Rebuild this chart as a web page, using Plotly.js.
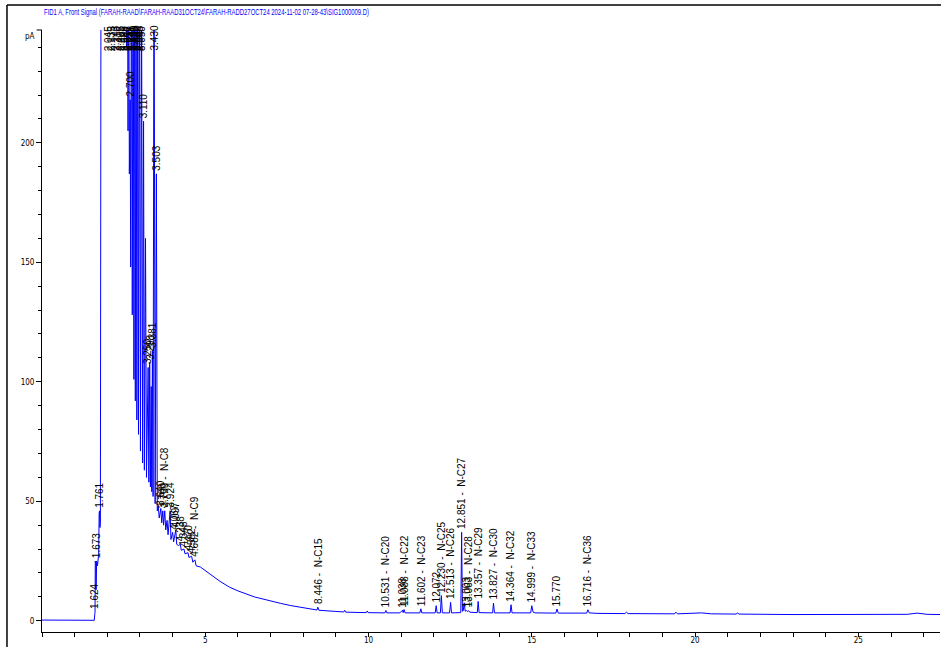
<!DOCTYPE html>
<html>
<head>
<meta charset="utf-8">
<script src="https://cdn.plot.ly/plotly-3.0.1.min.js"></script>
<style>
  html, body { margin: 0; padding: 0; background: #ffffff; }
  #chart { width: 941px; height: 647px; }
</style>
</head>
<body>
<div id="chart"></div>
<script>
// FID1 A front-signal chromatogram: retention time (min) vs detector signal (pA)
const timeMin = [
  0.00, 0.50, 1.00, 1.50, 1.600, 1.615, 1.624, 1.632, 1.648, 1.656, 1.664, 1.673, 1.700, 1.735, 1.750, 1.761, 1.775, 1.788,
  1.810, 1.900, 2.045, 2.135, 2.243, 2.318, 2.405, 2.496, 2.568, 2.595, 2.616, 2.635, 2.652, 2.675, 2.700, 2.716,
  2.741, 2.765, 2.790, 2.815, 2.835, 2.858, 2.880, 2.905, 2.932, 2.955, 2.985, 3.015, 3.050, 3.080, 3.110, 3.135,
  3.170, 3.200, 3.250, 3.272, 3.298, 3.320, 3.345, 3.362, 3.381, 3.402, 3.430, 3.465, 3.503, 3.530, 3.560, 3.590,
  3.640, 3.665, 3.700, 3.722, 3.759, 3.790, 3.830, 3.860, 3.924, 3.948, 4.000, 4.030, 4.067, 4.097, 4.125, 4.180,
  4.238, 4.265, 4.348, 4.380, 4.470, 4.500, 4.582, 4.620, 4.682, 4.720, 4.850, 5.000, 5.250, 5.450, 5.750, 6.000,
  6.500, 7.000, 7.300, 7.600, 8.000, 8.420, 8.446, 8.480, 9.000, 9.240, 9.270, 9.300, 9.930, 9.960, 9.990, 10.500,
  10.531, 10.560, 10.960, 11.038, 11.060, 11.088, 11.120, 11.570, 11.602, 11.630, 12.040, 12.072, 12.100, 12.200,
  12.230, 12.260, 12.480, 12.513, 12.540, 12.825, 12.851, 12.875, 12.900, 12.930, 12.960, 13.003, 13.030, 13.063,
  13.100, 13.330, 13.357, 13.385, 13.800, 13.827, 13.855, 14.335, 14.364, 14.395, 14.965, 14.999, 15.040, 15.100,
  15.735, 15.770, 15.810, 16.680, 16.716, 16.760, 17.000, 17.850, 17.900, 17.950, 19.370, 19.410, 19.460, 20.000,
  20.200, 20.500, 21.250, 21.300, 21.350, 23.000, 25.000, 26.500, 26.800, 27.100, 27.500
];
const signalPA = [
  0.3, 0.3, 0.2, 0.2, 0.2, 2.5, 3.5, 25, 24, 13, 24, 25, 23, 28, 45, 46, 39, 41,
  320, 480, 520, 500, 470, 450, 430, 400, 330, 240, 320, 205, 310, 187, 218, 148,
  300, 128, 320, 101, 300, 92, 300, 84, 300, 78, 300, 71, 260, 66, 209, 63,
  160, 60, 106, 58, 108, 56, 98, 54, 113, 52, 300, 49, 187, 46, 48, 43,
  47, 41, 46, 40, 46, 38, 42, 36, 46, 34, 37, 33, 37, 38, 32, 31.5,
  32, 29.5, 30, 28, 28.5, 26.5, 27, 24.5, 25.5, 23, 22.5, 21, 18.5, 16.5, 14, 12.5,
  10.0, 8.2, 7.3, 6.4, 5.4, 4.5, 5.7, 4.4, 3.9, 3.7, 4.4, 3.6, 3.4, 4.1, 3.4, 3.3,
  4.3, 3.3, 3.3, 4.4, 3.4, 4.7, 3.3, 3.3, 5.0, 3.3, 3.3, 6.3, 3.3, 3.3,
  10.5, 3.3, 3.3, 7.7, 3.3, 3.4, 37, 4.0, 4.2, 7.5, 4.0, 4.3, 3.8, 4.2,
  3.6, 3.4, 8.1, 3.4, 3.3, 7.4, 3.3, 3.3, 6.7, 3.3, 3.3, 6.3, 3.6, 3.3,
  3.2, 4.9, 3.2, 3.2, 4.6, 3.3, 3.1, 3.0, 3.6, 3.0, 2.9, 3.6, 2.9, 3.0,
  3.3, 2.9, 2.8, 3.2, 2.8, 2.6, 2.6, 2.7, 3.2, 2.7, 2.6
];

// integrated peaks: retention time and assigned n-alkane ('' = unassigned)
const peakTimes = [
  1.624, 1.673, 1.761, 2.045, 2.135, 2.243, 2.318, 2.405, 2.496, 2.568, 2.616, 2.652, 2.700,
  2.741, 2.790, 2.835, 2.880, 2.932, 2.985, 3.050, 3.110, 3.250, 3.298, 3.381, 3.430, 3.503,
  3.640, 3.700, 3.759, 3.924, 4.067, 4.097, 4.238, 4.348, 4.470, 4.582, 4.682,
  8.446, 10.531, 11.038, 11.088, 11.602, 12.072, 12.230, 12.513, 12.851, 13.003, 13.063,
  13.357, 13.827, 14.364, 14.999, 15.770, 16.716
];
const peakNames = [
  '', '', '', '', '', '', '', '', '', '', '', '', '',
  '', '', '', '', '', '', '', '', '', '', '', '', '',
  '', '', 'N-C8', '', '', '', '', '', '', '', 'N-C9',
  'N-C15', 'N-C20', '', 'N-C22', 'N-C23', '', 'N-C25', 'N-C26', 'N-C27', '', 'N-C28',
  'N-C29', 'N-C30', 'N-C32', 'N-C33', '', 'N-C36'
];

const xTickVals = [5, 10, 15, 20, 25];
const yTickVals = [0, 50, 100, 150, 200];
const signalUnit = 'pA';
const titleText = 'FID1 A, Front Signal (FARAH-RAAD\\FARAH-RAAD31OCT24\\FARAH-RADD27OCT24 2024-11-02 07-28-43\\SIG1000009.D)';

const xRange = [0, 27.5];
const yRange = [-4.7, 247.2];

const labelFont = { family: 'Liberation Sans, Arial, sans-serif', size: 10, color: '#000000' };
const tickFont = { family: '"Liberation Sans Narrow", "Arial Narrow", "DejaVu Sans Condensed", sans-serif', size: 8, color: '#000000' };
const titleWidthPx = 325;   // report header is printed in a compressed face

// Peak labels sit just above the apex; off-scale apexes get their label pinned at the top edge
const peakLabels = peakTimes.map((t, i) => {
  const v = signalPA[timeMin.indexOf(t)];
  const offScale = v > yRange[1];
  return {
    x: t, y: offScale ? yRange[1] : v, xref: 'x', yref: 'y',
    text: t.toFixed(3) + (peakNames[i] ? ' -  ' + peakNames[i] : ''),
    textangle: -90, showarrow: false, xanchor: 'center',
    yanchor: offScale ? 'top' : 'bottom', yshift: offScale ? 5 : 2,
    borderpad: 0, font: labelFont
  };
});

const titleIndex = peakLabels.length;
const annotations = peakLabels.concat([
  { xref: 'paper', yref: 'paper', x: 0.001, y: 1, xanchor: 'left', yanchor: 'middle', yshift: 18,
    text: titleText, showarrow: false, borderpad: 0,
    font: { family: 'Liberation Sans, Arial, sans-serif', size: 9, color: '#0000ff' } },
  { xref: 'paper', yref: 'paper', x: -0.013, y: 1, xanchor: 'center', yanchor: 'middle', yshift: -6,
    text: signalUnit, showarrow: false, borderpad: 0, font: tickFont }
]);

const trace = {
  x: timeMin, y: signalPA, type: 'scatter', mode: 'lines',
  line: { color: '#0000ff', width: 1 }, hoverinfo: 'skip'
};

const layout = {
  width: 941, height: 647,
  margin: { l: 42, r: 1, t: 30, b: 15, pad: 0 },
  paper_bgcolor: '#ffffff', plot_bgcolor: '#ffffff',
  showlegend: false,
  xaxis: {
    range: xRange, showgrid: false, zeroline: false,
    showline: true, linecolor: '#000000', linewidth: 1,
    tickmode: 'array', tickvals: xTickVals, ticktext: xTickVals.map(String),
    ticks: 'outside', ticklen: 4, tickwidth: 1, tickcolor: '#000000',
    ticklabelstandoff: -4,
    tickfont: tickFont,
    minor: { dtick: 1, tick0: 0, ticks: 'outside', ticklen: 4, tickwidth: 1, tickcolor: '#000000', showgrid: false }
  },
  yaxis: {
    range: yRange, showgrid: false, zeroline: false,
    showline: true, linecolor: '#000000', linewidth: 1,
    tickmode: 'array', tickvals: yTickVals, ticktext: yTickVals.map(String),
    ticks: 'outside', ticklen: 5, tickwidth: 1, tickcolor: '#000000',
    tickfont: tickFont,
    minor: { dtick: 10, tick0: 0, ticks: 'outside', ticklen: 3, tickwidth: 1, tickcolor: '#000000', showgrid: false }
  },
  annotations: annotations,
  shapes: [
    // report frame (left and top edges)
    { type: 'line', xref: 'paper', yref: 'paper', x0: -0.039, x1: -0.039, y0: -0.03, y1: 1.0415,
      line: { color: '#000000', width: 1.5 } },
    { type: 'line', xref: 'paper', yref: 'paper', x0: -0.039, x1: 1.01, y0: 1.0415, y1: 1.0415,
      line: { color: '#000000', width: 1.5 } },
    // cap at the top of the signal axis
    { type: 'line', xref: 'paper', yref: 'paper', x0: -0.006, x1: 0, y0: 1, y1: 1,
      line: { color: '#000000', width: 1 } }
  ]
};

Plotly.newPlot('chart', [trace], layout, { staticPlot: true, displayModeBar: false }).then(gd => {
  // squeeze the header text horizontally, keeping its left edge in place
  const el = gd.querySelector('.annotation[data-index="' + titleIndex + '"] text');
  if (el) {
    const bb = el.getBBox();
    const k = Math.min(1, titleWidthPx / bb.width);
    const prev = el.getAttribute('transform') || '';
    el.setAttribute('transform', 'matrix(' + k + ',0,0,1,' + (bb.x * (1 - k)) + ',0) ' + prev);
  }
});
</script>
</body>
</html>
